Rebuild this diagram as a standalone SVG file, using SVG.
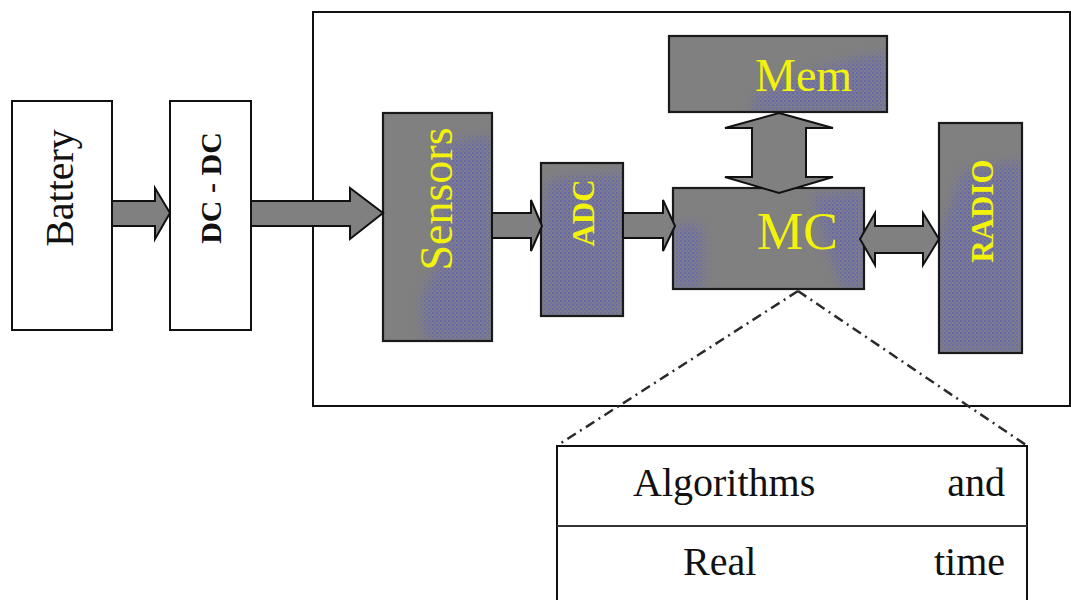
<svg xmlns="http://www.w3.org/2000/svg" width="1071" height="600" viewBox="0 0 1071 600">
<defs>
<pattern id="tex" width="4" height="4" patternUnits="userSpaceOnUse">
<rect width="4" height="4" fill="#7c7c90"/>
<circle cx="1" cy="1" r="1" fill="#6060b0"/>
<circle cx="3" cy="3" r="0.9" fill="#6c6ca6"/>
</pattern>
<filter id="soft" x="-20%" y="-20%" width="140%" height="140%"><feGaussianBlur stdDeviation="6"/></filter>
<mask id="mSens" maskUnits="userSpaceOnUse"><path fill="#fff" filter="url(#soft)" d="M440,145 L492,135 L492,341 L425,341 L420,300 L445,250 Z"/></mask>
<mask id="mAdc" maskUnits="userSpaceOnUse"><path fill="#fff" filter="url(#soft)" d="M548,180 L623,172 L623,316 L541,316 L541,225 Z"/></mask>
<mask id="mMem" maskUnits="userSpaceOnUse"><path fill="#fff" filter="url(#soft)" d="M755,95 L790,80 L830,65 L887,52 L887,112 L750,112 Z"/></mask>
<mask id="mMc" maskUnits="userSpaceOnUse"><path fill="#fff" filter="url(#soft)" d="M673,225 L702,225 L702,289 L673,289 Z M812,196 L864,190 L864,289 L842,289 L828,250 Z"/></mask>
<mask id="mRad" maskUnits="userSpaceOnUse"><path fill="#fff" filter="url(#soft)" d="M962,172 L1022,160 L1022,353 L939,353 L939,240 Z"/></mask>
<style>
.wbox{fill:#ffffff;stroke:#111;stroke-width:2}
.gbox{fill:#808080}
.edge{fill:none;stroke:#1a1a1a;stroke-width:2.2}
.tx{fill:url(#tex);stroke:none}
.arr{fill:#808080;stroke:#111;stroke-width:2;stroke-linejoin:miter}
.frame{fill:none;stroke:#111;stroke-width:2}
.dash{fill:none;stroke:#2a2a2a;stroke-width:2.5;stroke-dasharray:10 5 2 5}
.ser{font-family:"Liberation Serif","Times New Roman",serif}
.yel{fill:#f2f20a}
.blk{fill:#111}
</style>
</defs>

<rect class="frame" x="313" y="12" width="757" height="394"/>

<g id="battery">
<rect class="wbox" x="12" y="101" width="100" height="229"/>
<text class="ser blk" font-size="40" text-anchor="middle" transform="translate(73,188) rotate(-90)">Battery</text>
</g>

<g id="dcdc">
<rect class="wbox" x="170" y="101" width="81" height="229"/>
<text class="ser blk" font-size="30" font-weight="bold" text-anchor="middle" transform="translate(221,188) rotate(-90)">DC - DC</text>
</g>

<g id="sensors">
<rect class="gbox" x="383" y="113" width="109" height="228"/>
<rect class="tx" x="383" y="113" width="109" height="228" mask="url(#mSens)"/>
<rect class="edge" x="383" y="113" width="109" height="228"/>
<text class="ser yel" font-size="46" text-anchor="middle" transform="translate(452,199) rotate(-90)">Sensors</text>
</g>

<g id="adc">
<rect class="gbox" x="541" y="163" width="82" height="153"/>
<rect class="tx" x="541" y="163" width="82" height="153" mask="url(#mAdc)"/>
<rect class="edge" x="541" y="163" width="82" height="153"/>
<text class="ser yel" font-size="31" font-weight="bold" text-anchor="middle" transform="translate(594,213) rotate(-90)">ADC</text>
</g>

<g id="mem">
<rect class="gbox" x="669" y="36" width="218" height="76"/>
<rect class="tx" x="669" y="36" width="218" height="76" mask="url(#mMem)"/>
<rect class="edge" x="669" y="36" width="218" height="76"/>
<text class="ser yel" font-size="46" x="755" y="91">Mem</text>
</g>

<g id="mc">
<rect class="gbox" x="673" y="188" width="191" height="101"/>
<rect class="tx" x="673" y="188" width="191" height="101" mask="url(#mMc)"/>
<rect class="edge" x="673" y="188" width="191" height="101"/>
<text class="ser yel" font-size="52" x="757" y="249">MC</text>
</g>

<g id="radio">
<rect class="gbox" x="939" y="123" width="83" height="230"/>
<rect class="tx" x="939" y="123" width="83" height="230" mask="url(#mRad)"/>
<rect class="edge" x="939" y="123" width="83" height="230"/>
<text class="ser yel" font-size="31" font-weight="bold" text-anchor="middle" transform="translate(993,211) rotate(-90)">RADIO</text>
</g>

<g id="connectors">
<polygon class="arr" points="112,201 155,201 155,188 170,213 155,239 155,226 112,226"/>
<polygon class="arr" points="251,201 350,201 350,188 383,213 350,239 350,226 251,226"/>
<polygon class="arr" points="492,213 531,213 531,200 542,226 531,251 531,238 492,238"/>
<polygon class="arr" points="623,213 663,213 663,200 675,226 663,251 663,238 623,238"/>
<polygon class="arr" points="779,113 833,128 806,128 806,177 833,177 779,193 725,177 752,177 752,128 725,128"/>
<polygon class="arr" points="860,239 875,213 875,226 923,226 923,213 939,239 923,265 923,253 875,253 875,265"/>
<line class="dash" x1="798" y1="291" x2="558" y2="445"/>
<line class="dash" x1="798" y1="291" x2="1026" y2="445"/>
</g>

<g id="detail">
<polyline fill="none" stroke="#111" stroke-width="2" points="557,600 557,446 1027,446 1027,600"/>
<line x1="557" y1="526" x2="1027" y2="526" stroke="#333" stroke-width="2"/>
<text class="ser blk" font-size="40" x="633" y="496">Algorithms</text>
<text class="ser blk" font-size="40" x="1005" y="496" text-anchor="end">and</text>
<text class="ser blk" font-size="40" x="683" y="575">Real</text>
<text class="ser blk" font-size="40" x="1005" y="575" text-anchor="end">time</text>
</g>
</svg>
